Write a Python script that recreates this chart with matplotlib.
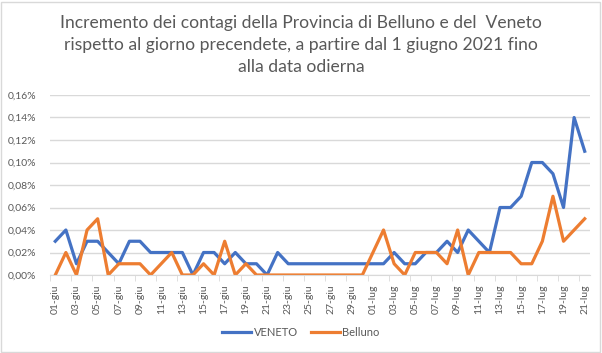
import matplotlib
matplotlib.use("Agg")
import matplotlib.pyplot as plt
from matplotlib.ticker import FuncFormatter, FixedLocator
from matplotlib.patches import Rectangle

# ============================================================
# Dati (incremento percentuale rispetto al giorno precedente)
# ============================================================

giorni = list(range(51))  # 01-giu ... 21-lug

etichette = [
    "01-giu", "03-giu", "05-giu", "07-giu", "09-giu", "11-giu", "13-giu",
    "15-giu", "17-giu", "19-giu", "21-giu", "23-giu", "25-giu", "27-giu",
    "29-giu", "01-lug", "03-lug", "05-lug", "07-lug", "09-lug", "11-lug",
    "13-lug", "15-lug", "17-lug", "19-lug", "21-lug",
]

veneto = [
    0.03, 0.04, 0.01, 0.03, 0.03, 0.02, 0.01, 0.03, 0.03, 0.02,
    0.02, 0.02, 0.02, 0.00, 0.02, 0.02, 0.01, 0.02, 0.01, 0.01,
    0.00, 0.02, 0.01, 0.01, 0.01, 0.01, 0.01, 0.01, 0.01, 0.01,
    0.01, 0.01, 0.02, 0.01, 0.01, 0.02, 0.02, 0.03, 0.02, 0.04,
    0.03, 0.02, 0.06, 0.06, 0.07, 0.10, 0.10, 0.09, 0.06, 0.14,
    0.11,
]

belluno = [
    0.00, 0.02, 0.00, 0.04, 0.05, 0.00, 0.01, 0.01, 0.01, 0.00,
    0.01, 0.02, 0.00, 0.00, 0.01, 0.00, 0.03, 0.00, 0.01, 0.00,
    0.00, 0.00, 0.00, 0.00, 0.00, 0.00, 0.00, 0.00, 0.00, 0.00,
    0.02, 0.04, 0.01, 0.00, 0.02, 0.02, 0.02, 0.01, 0.04, 0.00,
    0.02, 0.02, 0.02, 0.02, 0.01, 0.01, 0.03, 0.07, 0.03, 0.04,
    0.05,
]

titolo = ("Incremento dei contagi della Provincia di Belluno e del  Veneto\n"
          "rispetto al giorno precendete, a partire dal 1 giugno 2021 fino\n"
          "alla data odierna")

# ============================================================
# Grafico
# ============================================================

plt.rcParams["font.family"] = ["Lato", "DejaVu Sans"]
GRIGIO = "#595959"

W, H = 602, 353
fig = plt.figure(figsize=(W / 100, H / 100), dpi=100)
ax = fig.add_axes([50 / W, 1 - 275 / H, 540 / W, 180 / H])

ax.plot(giorni, veneto, color="#4472C4", linewidth=2.3, label="VENETO")
ax.plot(giorni, belluno, color="#ED7D31", linewidth=2.3, label="Belluno")

ax.set_xlim(-0.5, 50.5)
ax.set_ylim(0, 0.16)
ax.set_yticks([i * 0.02 for i in range(9)])
ax.yaxis.set_major_formatter(
    FuncFormatter(lambda v, p: f"{v:.2f}%".replace(".", ",")))

ax.set_xticks(giorni[::2])
ax.set_xticklabels(etichette, rotation=90)
ax.xaxis.set_minor_locator(FixedLocator([g - 0.5 for g in giorni[::2]]))

ax.grid(axis="y", color="#D9D9D9", linewidth=1)
ax.set_axisbelow(True)
for s in ["top", "right", "left"]:
    ax.spines[s].set_visible(False)
ax.spines["bottom"].set_color("#D9D9D9")

ax.tick_params(axis="y", length=0, labelsize=7.5, labelcolor=GRIGIO, pad=10)
ax.tick_params(axis="x", which="major", length=0, labelsize=7.5,
               labelcolor=GRIGIO, pad=7)
ax.tick_params(axis="x", which="minor", length=4, color="#D9D9D9")

fig.text(0.5, 1 - 45 / H, titolo, ha="center", va="center", fontsize=12.6,
         color=GRIGIO, linespacing=1.45)

fig.legend(loc="center", bbox_to_anchor=(0.5, 1 - 332 / H), ncol=2,
           frameon=False, fontsize=8, labelcolor=GRIGIO, handlelength=2.6,
           handletextpad=0.2, columnspacing=1.2)

fig.patches.append(Rectangle((1 / W, 1 / H), 1 - 3 / W, 1 - 3 / H,
                             transform=fig.transFigure, fill=False,
                             edgecolor="#D9D9D9", linewidth=1))

fig.savefig("out.png", dpi=100)
